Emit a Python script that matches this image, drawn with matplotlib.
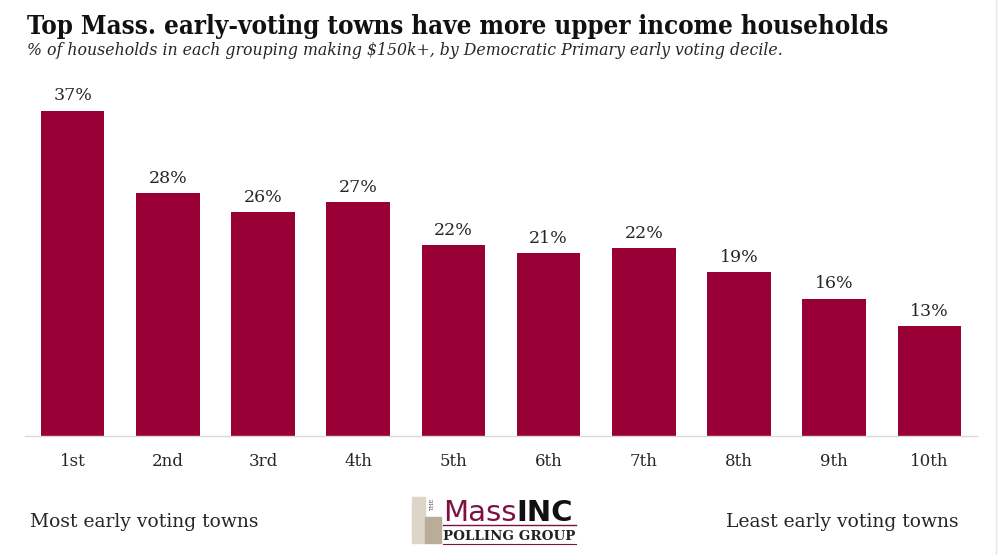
import matplotlib.pyplot as plt
from matplotlib.patches import Rectangle
from matplotlib.lines import Line2D

# values (labels are the rounded figures shown)
deciles = ['1st', '2nd', '3rd', '4th', '5th', '6th', '7th', '8th', '9th', '10th']
pct_150k = [37.4, 27.9, 25.7, 26.9, 21.9, 21.0, 21.6, 18.8, 15.8, 12.6]
pct_labels = ['37%', '28%', '26%', '27%', '22%', '21%', '22%', '19%', '16%', '13%']

title = 'Top Mass. early-voting towns have more upper income households'
subtitle = ('% of households in each grouping making $150k+, '
            'by Democratic Primary early voting decile.')

bar_color = '#990036'
text_color = '#262626'
serif = ['DejaVu Serif']

fig = plt.figure(figsize=(10, 5.55), dpi=100)
ax = fig.add_axes([0.025, 1 - 436 / 555, 0.952, 348 / 555])

x = range(len(deciles))
ax.bar(x, pct_150k, width=0.67, color=bar_color, zorder=2)
for xi, v, lab in zip(x, pct_150k, pct_labels):
    ax.annotate(lab, (xi, v), xytext=(0, 4.5), textcoords='offset points',
                ha='center', va='bottom', fontsize=12.5, family=serif,
                color=text_color)

ax.set_xlim(-0.5, 9.5)
ax.set_ylim(0, 40)
ax.set_xticks(list(x))
ax.set_xticklabels(deciles, family=serif, fontsize=12, color=text_color)
ax.tick_params(axis='x', length=0, pad=12)
ax.set_yticks([])
for side in ['left', 'right', 'top']:
    ax.spines[side].set_visible(False)
ax.spines['bottom'].set_color('#d9d9d9')
ax.spines['bottom'].set_linewidth(1)

fig.text(0.027, 1 - 34 / 555, title, fontsize=18.5, fontweight='bold',
         fontstretch='condensed', family=serif, color='#111111',
         ha='left', va='baseline')
fig.text(0.027, 1 - 55 / 555, subtitle, fontsize=11.3, style='italic',
         family=serif, color=text_color, ha='left', va='baseline')

fig.text(0.030, 1 - 527 / 555, 'Most early voting towns', fontsize=13.5,
         family=serif, color=text_color, ha='left', va='baseline')
fig.text(0.959, 1 - 527 / 555, 'Least early voting towns', fontsize=13.5,
         family=serif, color=text_color, ha='right', va='baseline')

# MassINC Polling Group logo, drawn in figure pixels
def px(x0, y0):
    return x0 / 1000, 1 - y0 / 555

fig.patches.append(Rectangle(px(412, 543), 13 / 1000, 46 / 555,
                             transform=fig.transFigure, color='#ddd5c8'))
fig.patches.append(Rectangle(px(425, 543), 16 / 1000, 26 / 555,
                             transform=fig.transFigure, color='#b9ad98'))
fig.text(*px(433, 505), 'THE', fontsize=4, rotation=90, family=serif,
         color='#555555', ha='center', va='center')
t1 = fig.text(*px(443, 521), 'Mass', fontsize=21, family='DejaVu Sans',
              color='#7d1242', ha='left', va='baseline')
fig.canvas.draw()
bb = t1.get_window_extent()
fig.text(bb.x1 / 1000, 1 - 521 / 555, 'INC', fontsize=21, fontweight='bold',
         family='DejaVu Sans', color='#111111', ha='left', va='baseline')
fig.lines.append(Line2D([0.443, 0.576], [1 - 525 / 555] * 2,
                        transform=fig.transFigure, color='#7d1242', lw=1))
fig.text(0.5095, 1 - 540 / 555, 'POLLING GROUP', fontsize=9.7,
         fontweight='bold', family=serif, color='#222222',
         ha='center', va='baseline')
fig.lines.append(Line2D([0.443, 0.576], [1 - 544 / 555] * 2,
                        transform=fig.transFigure, color='#7d1242', lw=0.8))
# faint frame edge on the right
fig.lines.append(Line2D([0.996, 0.996], [0, 1], transform=fig.transFigure,
                        color='#e6e6e6', lw=1))

fig.savefig('out.png', dpi=100)
